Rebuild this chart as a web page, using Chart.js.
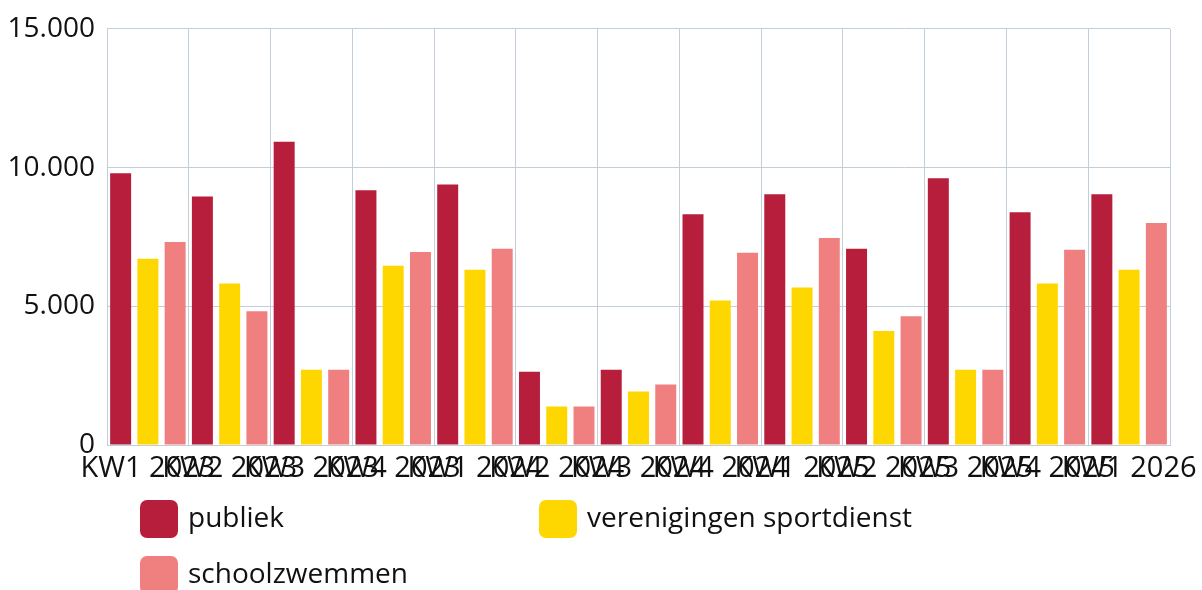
<!DOCTYPE html>
<html>
<head>
<meta charset="utf-8">
<script src="https://cdn.jsdelivr.net/npm/chart.js@4/dist/chart.umd.min.js"></script>
<style>
  html, body { margin: 0; padding: 0; background: #ffffff; }
  #wrap { width: 1202px; height: 590px; position: relative; }
</style>
</head>
<body>
<div id="wrap"><canvas id="c" width="1202" height="590"></canvas></div>
<script>
const categories = ["KW1 2023","KW2 2023","KW3 2023","KW4 2023","KW1 2024","KW2 2024","KW3 2024","KW4 2024","KW1 2025","KW2 2025","KW3 2025","KW4 2025","KW1 2026"];
const publiek = [9790, 8960, 10930, 9180, 9390, 2640, 2710, 8320, 9040, 7070, 9610, 8390, 9040];
const verenigingen = [6710, 5820, 2710, 6460, 6320, 1390, 1930, 5210, 5680, 4110, 2710, 5820, 6320];
const schoolzwemmen = [7320, 4820, 2710, 6960, 7070, 1390, 2180, 6930, 7460, 4640, 2710, 7040, 8000];
const seriesNames = ["publiek", "verenigingen sportdienst", "schoolzwemmen"];
const yTicks = [0, 5000, 10000, 15000];

const colors = ["#B71E3B", "#FFD700", "#F08080"];
const gridColor = "#C3CEDB";
const FONT = "'Open Sans', 'Noto Sans', sans-serif";

function fmt(v) { return String(v).replace(/\B(?=(\d{3})+(?!\d))/g, "."); }

const legendPlugin = {
  id: "gridLegend",
  afterDraw(chart) {
    const ctx = chart.ctx;
    const a = chart.chartArea;
    const items = [
      { i: 0, dx: 33, dy: 55 },
      { i: 1, dx: 432, dy: 55 },
      { i: 2, dx: 33, dy: 111 }
    ];
    ctx.save();
    ctx.font = "28px " + FONT;
    ctx.textBaseline = "middle";
    ctx.textAlign = "left";
    items.forEach(it => {
      const x = a.left + it.dx, y = a.bottom + it.dy, s = 38;
      ctx.fillStyle = colors[it.i];
      ctx.beginPath();
      ctx.roundRect(x, y, s, s, 7);
      ctx.fill();
      ctx.fillStyle = "#111";
      ctx.fillText(seriesNames[it.i], x + s + 10, y + s / 2);
    });
    ctx.restore();
  }
};

new Chart(document.getElementById("c"), {
  type: "bar",
  data: {
    labels: categories,
    datasets: [
      { label: seriesNames[0], data: publiek, backgroundColor: colors[0] },
      { label: seriesNames[1], data: verenigingen, backgroundColor: colors[1] },
      { label: seriesNames[2], data: schoolzwemmen, backgroundColor: colors[2] }
    ]
  },
  options: {
    responsive: false,
    animation: false,
    devicePixelRatio: 1,
    layout: { padding: { top: 25, right: 32, bottom: 100, left: 0 } },
    datasets: { bar: { categoryPercentage: 1.0, barPercentage: 0.77 } },
    plugins: { legend: { display: false }, tooltip: { enabled: false } },
    scales: {
      x: {
        grid: {
          offset: true,
          drawTicks: false,
          color: c => (c.index >= categories.length ? "rgba(0,0,0,0)" : gridColor),
          lineWidth: 1
        },
        border: { display: true, color: gridColor },
        ticks: {
          autoSkip: false, maxRotation: 0, minRotation: 0,
          color: "#111", padding: 6,
          font: { family: FONT, size: 29 }
        },
        afterFit: s => { s.height = 45; s.paddingLeft = 0; s.paddingRight = 0; }
      },
      y: {
        min: 0, max: 15000,
        afterBuildTicks: s => { s.ticks = yTicks.map(v => ({ value: v })); },
        grid: { drawTicks: false, color: gridColor },
        border: { display: true, color: gridColor },
        ticks: {
          color: "#111", padding: 12,
          font: { family: FONT, size: 28 },
          callback: v => fmt(v)
        },
        afterFit: s => { s.width = 107; }
      }
    }
  },
  plugins: [legendPlugin]
});
</script>
</body>
</html>
